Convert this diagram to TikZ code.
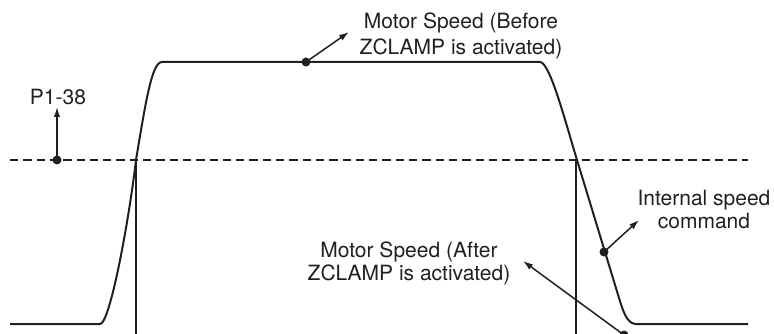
\documentclass[tikz,border=0pt]{standalone}
\usepackage{fontspec}
\setmainfont{TeX Gyre Heros}
\usetikzlibrary{arrows.meta}
\definecolor{ink}{HTML}{231F20}
\begin{document}
\begin{tikzpicture}[x=1pt,y=-1pt,
  curve/.style={draw=ink,line width=2pt,line join=round},
  guide/.style={draw=ink,line width=1.5pt},
  thresh/.style={draw=ink,line width=1.8pt,dash pattern=on 8.3pt off 5pt},
  pointer/.style={draw=ink,line width=1.5pt,-{Latex[length=10pt,width=6.5pt]}},
  dotnode/.style={circle,fill=ink,inner sep=0pt,minimum size=9pt},
  lbl/.style={font=\fontsize{21}{23}\selectfont,text=ink,inner sep=0pt,align=center}]
\useasboundingbox (0,0) rectangle (774,334);
% threshold line
\draw[thresh] (10,160) -- (748,160);
% vertical guides
\coordinate (g1t) at (136,160);
\coordinate (g1b) at (136,336);
\coordinate (g2t) at (576,160);
\coordinate (g2b) at (576,336);
\draw[guide] (g1t) -- (g1b);
\draw[guide] (g2t) -- (g2b);
% speed curve
\draw[curve] (10,324) -- (100,324) .. controls (110,324) and (129,220) .. (136,160)
  .. controls (146,100) and (152,62) .. (162,62) -- (540,62)
  .. controls (550,62) and (566,124) .. (577,160) -- (619,298)
  .. controls (623,311) and (627,324) .. (636,324) -- (748,324);
% dots
\node[dotnode] (dTop) at (306,62) {};
\node[dotnode] (dP) at (57,160) {};
\node[dotnode] (dInt) at (604,252) {};
\node[dotnode] (dAfter) at (624,335) {};
% arrow tips
\coordinate (aTop) at (349,32);
\coordinate (aP) at (57,107);
\coordinate (aInt) at (639,220);
\coordinate (aAfter) at (523,261);
\draw[pointer] (dTop.center) -- (aTop);
\draw[pointer] (dP.center) -- (aP);
\draw[pointer] (dInt.center) -- (aInt);
\draw[pointer] (dAfter.center) -- (aAfter);
% labels
\node[lbl,anchor=north] (tBefore) at (461,12.6) {Motor Speed (Before\\[3.5pt]ZCLAMP is activated)};
\node[lbl,anchor=north] (tAfter) at (409,241.6) {Motor Speed (After\\ZCLAMP is activated)};
\node[lbl,anchor=north] (tInt) at (704,190) {Internal speed\\command};
\node[lbl,anchor=base] (tP) at (58,105) {P1-38};
\end{tikzpicture}
\end{document}
